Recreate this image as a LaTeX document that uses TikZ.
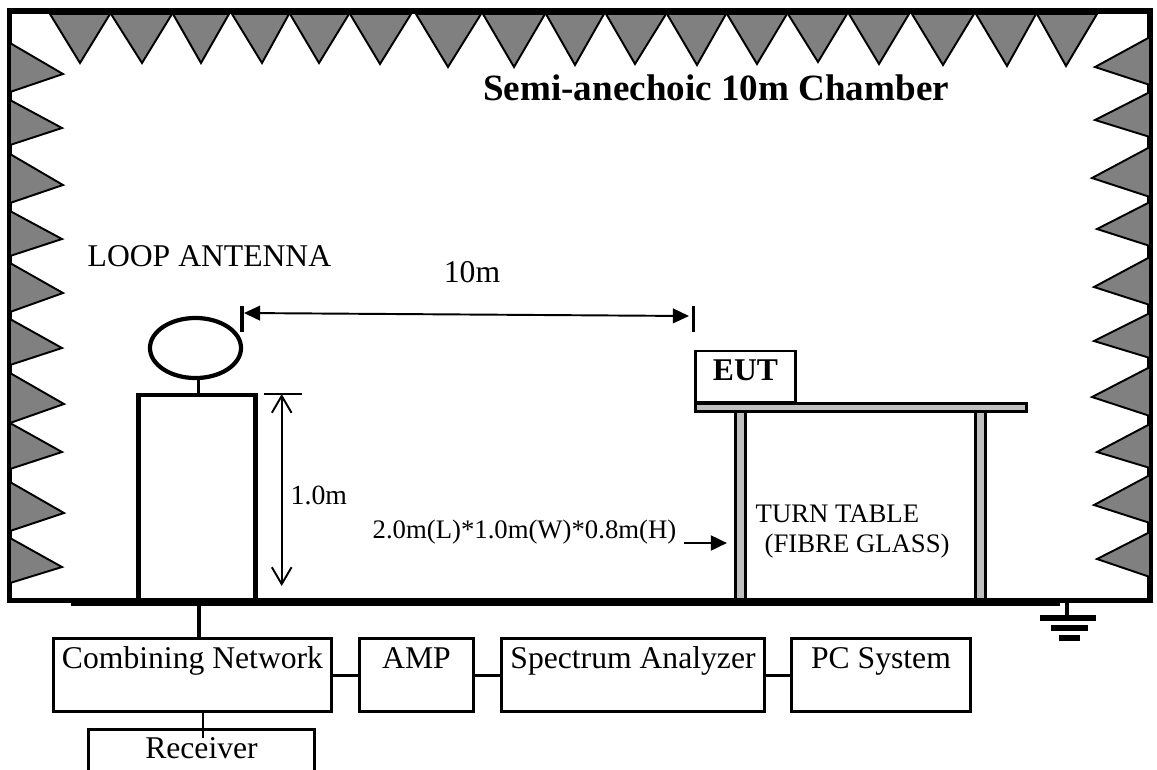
\documentclass[tikz,border=0pt]{standalone}
\usepackage{fontspec}
\setmainfont{Liberation Serif}
\usetikzlibrary{arrows.meta,shapes.geometric}
\tikzset{
  wedge/.style={draw,fill=black!50,line width=0.55pt,line join=miter},
  boxnode/.style={draw,line width=0.85pt,inner sep=0pt,text height=0.29cm,text depth=0.43cm},
  wire/.style={line width=0.85pt},
  tablepart/.style={draw,fill=black!25,line width=0.85pt},
  tick/.style={line width=1.1pt},
  small/.style={font=\fontsize{7.6}{9}\selectfont,anchor=base west,inner sep=0pt}
}
\begin{document}
\begin{tikzpicture}[x=0.01cm,y=-0.01cm,font=\fontsize{9}{11}\selectfont]
      \useasboundingbox (0,0) rectangle (1157,769);
      \draw[line width=1.45pt] (9.5,11) rectangle (1150,600.5);
      \foreach \l/\r/\t/\d in {50/110/80/63,111/172/142/63,173/229/201/63,232/289/262/63,290/349/319/63,350/411/380/64,416/481/448/67,483/545/514/67,546/604/575/65,606/666/635/64,667/726/697/65,727/787/757/64,788/847/818/62,849/909/879/64,912/974/943/65,976/1036/1007/66,1037/1097/1066/66}
        \draw[wedge] (\l,14) -- (\t,\d) -- (\r,14) -- cycle;
      \foreach \a/\b/\t/\d in {43/92/63/74,100/145/62/128,154/203/63/185,211/256/62/239,263/312/63/293,319/365/62/348,373/423/64/404,423/469/62/452,482/531/64/513,538/583/62/567}
        \draw[wedge] (10,\a) -- (\t,\d) -- (10,\b) -- cycle;
      \foreach \a/\b/\t/\d in {37/85/1095/67,92/137/1095/120,147/197/1092/178,202/246/1097/229,257/305/1094/287,313/358/1094/341,367/416/1092/397,424/468/1097/452,475/523/1094/505,532/577/1097/559}
        \draw[wedge] (1150,\a) -- (\t,\d) -- (1150,\b) -- cycle;
      \draw[tablepart] (735.5,405) rectangle (745,600);
      \draw[tablepart] (975.5,405) rectangle (985,600);
      \draw[tablepart] (695.5,403.5) rectangle (1026,411);
      \node[draw,line width=0.85pt,inner sep=0pt,minimum width=1cm,text height=0.29cm,text depth=0.22cm,font=\fontsize{9}{11}\selectfont\bfseries] (eut) at (745.5,376.5) {EUT};
      \node[draw,line width=1.2pt,minimum width=1.17cm,minimum height=2.05cm] (mast) at (197,497.5) {};
      \node[draw,ellipse,line width=1.2pt,inner sep=0pt,minimum width=0.91cm,minimum height=0.6cm] (antenna) at (195.5,348) {};
      \coordinate (stemtop) at (198.5,380);
      \draw[line width=1.1pt] (stemtop) -- (stemtop |- mast.north);
      \draw[line width=2.3pt] (71,602) -- (1060,602);
      \node[anchor=base west,inner sep=0pt,font=\fontsize{10.55}{13}\selectfont\bfseries] (title) at (482.5,100) {Semi-anechoic 10m Chamber};
      \node[anchor=base west,inner sep=0pt] (looplabel) at (87,266) {LOOP ANTENNA};
      \node[anchor=base,inner sep=0pt] (distlabel) at (472,282) {10m};
      \coordinate (tickleft) at (241.7,306);
      \coordinate (tickright) at (693.5,306);
      \draw[tick] (tickleft) -- ++(0,26);
      \draw[tick] (tickright) -- ++(0,26);
      \draw[{Triangle[length=4.6pt,width=4.2pt]}-{Triangle[length=4.6pt,width=4.2pt]},line width=0.55pt] (244,313) -- (689,316);
      \coordinate (heighttop) at (281.7,394);
      \coordinate (heightbot) at (281.7,586);
      \draw[line width=0.5pt] (264,394) -- (302,394);
      \draw[{Straight Barb[length=4.8pt,width=5.6pt]}-{Straight Barb[length=4.8pt,width=5.6pt]},line width=0.55pt] (heighttop) -- (heightbot);
      \node[anchor=base west,inner sep=0pt,font=\fontsize{7.9}{9}\selectfont] (heightlabel) at (290,504) {1.0m};
      \node[small] (sizelabel) at (372,538) {2.0m(L)*1.0m(W)*0.8m(H)};
      \coordinate (sizefrom) at (684,543);
      \coordinate (sizeto) at (727,543);
      \draw[-{Triangle[length=4.6pt,width=4.2pt]},line width=0.8pt] (sizefrom) -- (sizeto);
      \node[small] (turnlabel) at (755,522) {TURN TABLE};
      \node[small] (fibrelabel) at (764,552) {(FIBRE GLASS)};
      \coordinate (groundtap) at (1067,603);
      \draw[line width=1.4pt] (groundtap) -- (1067,618);
      \draw[line width=1.8pt] (1040,618) -- (1096,618);
      \draw[line width=1.8pt] (1051,628) -- (1088,628);
      \draw[line width=1.8pt] (1059,638) -- (1080,638);
      \node[boxnode,minimum width=2.78cm] (combining) at (192.5,675) {Combining Network};
      \node[boxnode,minimum width=1.14cm] (amp) at (416.5,675) {AMP};
      \node[boxnode,minimum width=2.63cm] (analyzer) at (633,675) {Spectrum Analyzer};
      \node[boxnode,minimum width=1.79cm] (pc) at (881,675) {PC System};
      \node[inner sep=0pt,minimum width=2.24cm,text height=0.28cm,text depth=0.11cm] (receiver) at (201.5,749.5) {Receiver};
      \draw[wire] (receiver.south west) -- (receiver.north west) -- (receiver.north east) -- (receiver.south east);
      \draw[wire] (combining) -- (amp);
      \draw[wire] (amp) -- (analyzer);
      \draw[wire] (analyzer) -- (pc);
      \coordinate (mastfeed) at (199,606);
      \draw[line width=1.3pt] (mastfeed) -- (mastfeed |- combining.north);
      \coordinate (recvend) at (203,738);
      \draw[wire] (recvend |- combining.south) -- (recvend);
    \end{tikzpicture}
\end{document}
